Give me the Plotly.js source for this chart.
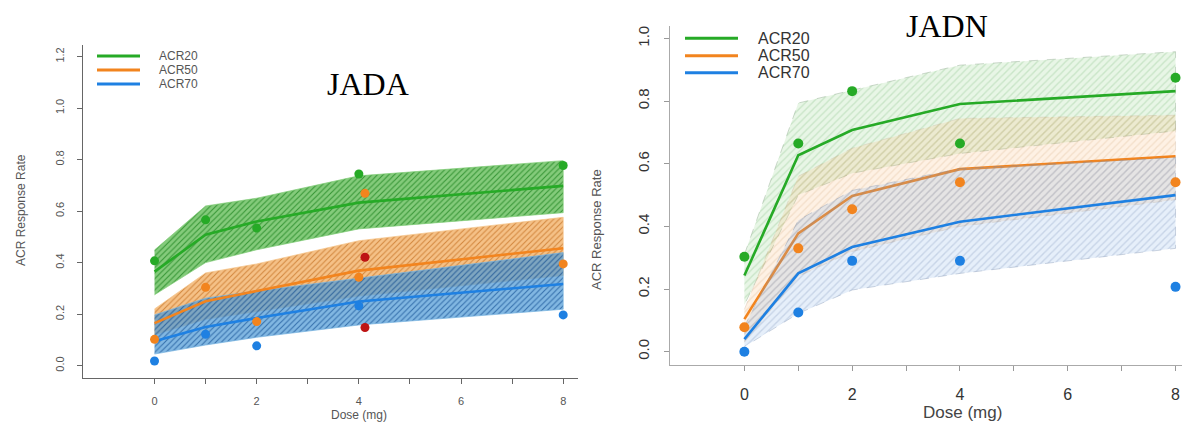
<!DOCTYPE html>
<html>
<head>
<meta charset="utf-8">
<script src="https://cdn.plot.ly/plotly-3.0.1.min.js"></script>
<style>
  html, body { margin: 0; padding: 0; background: #fff; }
  #chart { width: 1182px; height: 422px; }
</style>
</head>
<body>
<div id="chart"></div>
<script>
// Dose levels (mg) shared by both trials
const doses = [0, 1, 2, 4, 8];
const doseTickVals = [0, 1, 2, 3, 4, 5, 6, 7, 8];
const doseTickText = ['0', '', '2', '', '4', '', '6', '', '8'];
const seriesNames = ['ACR20', 'ACR50', 'ACR70'];

// JADA: observed response rates
const jadaObs20 = [0.407, 0.566, 0.534, 0.744, 0.777];
const jadaObs50 = [0.102, 0.304, 0.171, 0.343, 0.395];
const jadaObs70 = [0.018, 0.122, 0.077, 0.232, 0.197];
// JADA: additional observations plotted just right of 4 mg
const jadaExtraDose = [4.12];
const jadaExtraOrange = [0.669];
const jadaExtraRed = [0.421, 0.148];

// JADA: model fit with interval
const jadaFit20 = [0.365, 0.508, 0.560, 0.633, 0.698];
const jadaLo20  = [0.275, 0.400, 0.450, 0.531, 0.594];
const jadaHi20  = [0.449, 0.620, 0.650, 0.737, 0.796];
const jadaFit50 = [0.165, 0.250, 0.290, 0.369, 0.456];
const jadaLo50  = [0.120, 0.180, 0.210, 0.270, 0.350];
const jadaHi50  = [0.220, 0.360, 0.395, 0.485, 0.576];
const jadaFit70 = [0.095, 0.150, 0.185, 0.249, 0.317];
const jadaLo70  = [0.045, 0.080, 0.110, 0.158, 0.219];
const jadaHi70  = [0.197, 0.262, 0.290, 0.339, 0.439];

// JADN: observed response rates
const jadnObs20 = [0.303, 0.665, 0.832, 0.665, 0.875];
const jadnObs50 = [0.078, 0.330, 0.455, 0.541, 0.541];
const jadnObs70 = [0.000, 0.125, 0.290, 0.290, 0.207];

// JADN: model fit with interval
const jadnFit20 = [0.243, 0.627, 0.708, 0.791, 0.832];
const jadnLo20  = [0.150, 0.500, 0.570, 0.633, 0.705];
const jadnHi20  = [0.310, 0.794, 0.835, 0.915, 0.958];
const jadnFit50 = [0.104, 0.378, 0.497, 0.583, 0.624];
const jadnLo50  = [0.030, 0.240, 0.320, 0.400, 0.485];
const jadnHi50  = [0.135, 0.560, 0.650, 0.745, 0.755];
const jadnFit70 = [0.040, 0.250, 0.334, 0.415, 0.500];
const jadnLo70  = [0.016, 0.122, 0.197, 0.250, 0.330];
const jadnHi70  = [0.080, 0.420, 0.515, 0.585, 0.620];

const W = 1182, H = 422;
const px = x => x / W;
const py = y => 1 - y / H;

const GREEN = 'rgb(38,170,38)';
const ORANGE = 'rgb(242,132,30)';
const BLUE = 'rgb(30,128,226)';
const RED = 'rgb(190,20,20)';
const colors = [GREEN, ORANGE, BLUE];

// Hatched band styles: saturated for JADA, pale for JADN
const jadaBandStyle = [
  { bg: 'rgba(110,194,100,0.85)', fg: 'rgba(40,140,40,0.85)',  edge: 'rgba(130,205,120,0.9)' },
  { bg: 'rgba(242,178,105,0.80)', fg: 'rgba(205,125,50,0.85)', edge: 'rgba(245,195,135,0.9)' },
  { bg: 'rgba(80,155,215,0.72)',  fg: 'rgba(35,95,160,0.80)',  edge: 'rgba(120,180,225,0.9)' }
];
const jadnBandStyle = [
  { bg: 'rgba(140,210,130,0.20)', fg: 'rgba(90,165,90,0.22)',   edge: 'rgba(120,150,120,0.45)' },
  { bg: 'rgba(248,185,120,0.20)', fg: 'rgba(200,150,100,0.20)', edge: 'rgba(190,165,140,0.35)' },
  { bg: 'rgba(130,175,230,0.20)', fg: 'rgba(100,125,170,0.24)', edge: 'rgba(120,140,170,0.45)' }
];

function band(lo, hi, xa, ya, st, dash, pat) {
  return {
    x: doses.concat(doses.slice().reverse()),
    y: hi.concat(lo.slice().reverse()),
    xaxis: xa, yaxis: ya,
    mode: 'lines', fill: 'toself',
    line: { color: st.edge, width: 0.8, dash: dash },
    fillcolor: st.bg,
    fillpattern: { shape: '/', size: pat, solidity: 0.28, bgcolor: st.bg, fgcolor: st.fg, fgopacity: 1 },
    hoverinfo: 'skip', showlegend: false
  };
}
function fitLine(y, xa, ya, color, w) {
  return { x: doses, y: y, xaxis: xa, yaxis: ya, mode: 'lines',
           line: { color: color, width: w }, showlegend: false };
}
function points(x, y, xa, ya, color, size) {
  return { x: x, y: y, xaxis: xa, yaxis: ya, mode: 'markers',
           marker: { color: color, size: size }, showlegend: false };
}

const jadaBands = [[jadaLo20, jadaHi20], [jadaLo50, jadaHi50], [jadaLo70, jadaHi70]];
const jadaFits = [jadaFit20, jadaFit50, jadaFit70];
const jadaObs = [jadaObs20, jadaObs50, jadaObs70];
const jadnBands = [[jadnLo20, jadnHi20], [jadnLo50, jadnHi50], [jadnLo70, jadnHi70]];
const jadnFits = [jadnFit20, jadnFit50, jadnFit70];
const jadnObs = [jadnObs20, jadnObs50, jadnObs70];

const traces = [];
// JADA: all bands first, then fits
jadaBands.forEach((b, i) => traces.push(band(b[0], b[1], 'x', 'y', jadaBandStyle[i], 'solid', 4)));
jadaFits.forEach((f, i) => traces.push(fitLine(f, 'x', 'y', colors[i], 2.6)));
// JADN: each band followed by its fit, so later bands veil earlier fits
jadnBands.forEach((b, i) => {
  traces.push(band(b[0], b[1], 'x2', 'y2', jadnBandStyle[i], 'dash', 5));
  traces.push(fitLine(jadnFits[i], 'x2', 'y2', colors[i], 2.6));
});
jadaObs.forEach((o, i) => traces.push(points(doses, o, 'x', 'y', colors[i], 9)));
traces.push(points(jadaExtraDose, jadaExtraOrange, 'x', 'y', ORANGE, 9));
traces.push(points(jadaExtraDose.concat(jadaExtraDose), jadaExtraRed, 'x', 'y', RED, 9));
jadnObs.forEach((o, i) => traces.push(points(doses, o, 'x2', 'y2', colors[i], 10)));

// Panel geometry in pixels
const left = { x0: 83, x1: 578, yTop: 45, yBot: 378 };
const right = { x0: 670, x1: 1182, yTop: 26, yBot: 365 };

const axisCommon = {
  showgrid: false, zeroline: false, showline: true,
  ticks: 'outside', ticklen: 5, tickwidth: 1
};

const layout = {
  width: W, height: H,
  margin: { l: 0, r: 0, t: 0, b: 0 },
  paper_bgcolor: '#fff', plot_bgcolor: '#fff',
  showlegend: false,
  xaxis: Object.assign({}, axisCommon, {
    domain: [px(left.x0), px(left.x1)], range: [-1.4, 8.29], anchor: 'y',
    tickvals: doseTickVals, ticktext: doseTickText,
    linecolor: '#666', linewidth: 1.3, tickcolor: '#666',
    tickfont: { family: 'Liberation Sans, Arial, sans-serif', size: 11, color: '#555' },
    ticklabelstandoff: 7
  }),
  yaxis: Object.assign({}, axisCommon, {
    domain: [py(left.yBot), py(left.yTop)], range: [-0.048, 1.245], anchor: 'x',
    tickvals: [0, 0.2, 0.4, 0.6, 0.8, 1.0, 1.2], tickformat: '.1f', tickangle: -90,
    linecolor: '#666', linewidth: 1.3, tickcolor: '#666',
    tickfont: { family: 'Liberation Sans, Arial, sans-serif', size: 11, color: '#555' },
    ticklabelstandoff: 8
  }),
  xaxis2: Object.assign({}, axisCommon, {
    domain: [px(right.x0), 1], range: [-1.38, 8.12], anchor: 'y2',
    tickvals: doseTickVals, ticktext: doseTickText,
    linecolor: '#aaa', linewidth: 1.3, tickcolor: '#999',
    tickfont: { family: 'Liberation Sans, Arial, sans-serif', size: 16, color: '#333' },
    ticklabelstandoff: 9
  }),
  yaxis2: Object.assign({}, axisCommon, {
    domain: [py(right.yBot), py(right.yTop)], range: [-0.0425, 1.04], anchor: 'x2',
    tickvals: [0, 0.2, 0.4, 0.6, 0.8, 1.0], tickformat: '.1f', tickangle: -90,
    linecolor: '#aaa', linewidth: 1.3, tickcolor: '#999',
    tickfont: { family: 'Liberation Sans, Arial, sans-serif', size: 15, color: '#333' },
    ticklabelstandoff: 9
  }),
  shapes: [],
  annotations: []
};

const sans = 'Liberation Sans, Arial, sans-serif';
const serif = 'Liberation Serif, Times New Roman, serif';
function note(text, x, y, size, color, opts) {
  layout.annotations.push(Object.assign({
    text: text, x: px(x), y: py(y), xref: 'paper', yref: 'paper',
    showarrow: false, xanchor: 'center', yanchor: 'middle',
    font: { family: sans, size: size, color: color }
  }, opts || {}));
}

// Panel titles
note('JADA', 367.5, 84, 32, '#000', { font: { family: serif, size: 32, color: '#000' } });
note('JADN', 946.5, 26, 32, '#000', { font: { family: serif, size: 32, color: '#000' } });

// Axis titles
note('Dose (mg)', 359, 414.5, 12, '#555');
note('ACR Response Rate', 21, 210, 12, '#555', { textangle: -90 });
note('Dose (mg)', 962, 412.5, 17, '#444');
note('ACR Response Rate', 597, 230, 13, '#555', { textangle: -90 });

// Legend keys
const legends = [
  { x0: 97, x1: 140, ys: [56, 70, 84], tx: 157, size: 12, color: '#555', w: 3 },
  { x0: 685, x1: 738, ys: [38.3, 55.7, 72.7], tx: 756, size: 16, color: '#333', w: 3 }
];
legends.forEach(lg => {
  seriesNames.forEach((name, i) => {
    layout.shapes.push({
      type: 'line', xref: 'paper', yref: 'paper',
      x0: px(lg.x0), x1: px(lg.x1), y0: py(lg.ys[i]), y1: py(lg.ys[i]),
      line: { color: colors[i], width: lg.w }
    });
    note(name, lg.tx, lg.ys[i], lg.size, lg.color, { xanchor: 'left' });
  });
});

Plotly.newPlot('chart', traces, layout, { displayModeBar: false, staticPlot: true });
</script>
</body>
</html>
